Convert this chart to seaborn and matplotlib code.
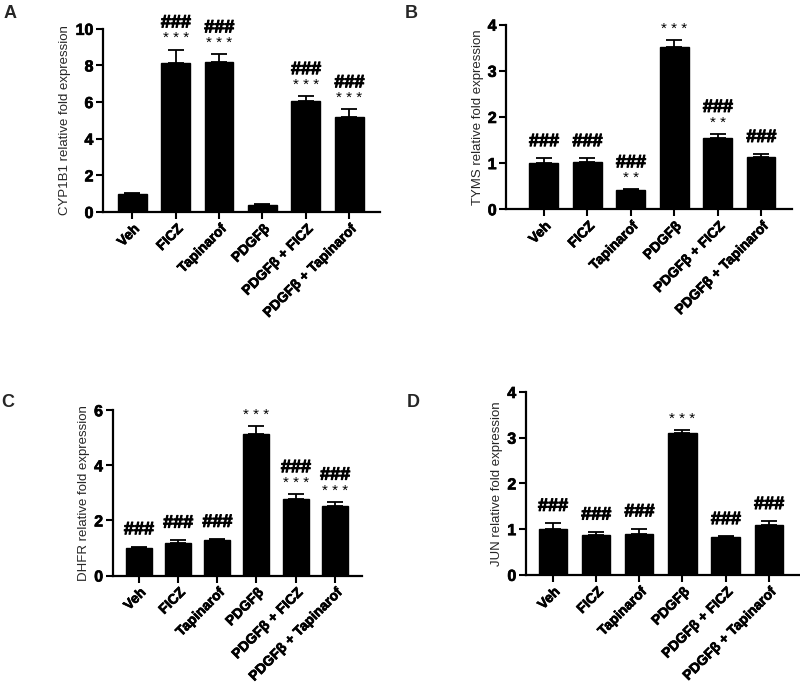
import matplotlib
matplotlib.use('Agg')
import matplotlib.pyplot as plt
import matplotlib.patheffects as pe
import seaborn as sns
import pandas as pd

sns.set_theme(style='ticks')
plt.rcParams['font.family'] = ['Liberation Sans', 'DejaVu Sans']

groups = ["Veh", "FICZ", "Tapinarof", "PDGFβ", "PDGFβ + FICZ", "PDGFβ + Tapinarof"]

cyp1b1_mean = [1.00, 8.12, 8.18, 0.38, 6.05, 5.18]
cyp1b1_err = [0.05, 0.75, 0.42, 0.05, 0.27, 0.42]
cyp1b1_hash = ["", "###", "###", "", "###", "###"]
cyp1b1_star = ["", "* * *", "* * *", "", "* * *", "* * *"]

tyms_mean = [1.00, 1.02, 0.41, 3.52, 1.55, 1.13]
tyms_err = [0.10, 0.08, 0.02, 0.14, 0.08, 0.06]
tyms_hash = ["###", "###", "###", "", "###", "###"]
tyms_star = ["", "", "* *", "* * *", "* *", ""]

dhfr_mean = [1.00, 1.17, 1.28, 5.15, 2.77, 2.53]
dhfr_err = [0.05, 0.12, 0.04, 0.27, 0.18, 0.15]
dhfr_hash = ["###", "###", "###", "", "###", "###"]
dhfr_star = ["", "", "", "* * *", "* * *", "* * *"]

jun_mean = [1.00, 0.87, 0.90, 3.10, 0.82, 1.10]
jun_err = [0.13, 0.07, 0.11, 0.07, 0.02, 0.07]
jun_hash = ["###", "###", "###", "", "###", "###"]
jun_star = ["", "", "", "* * *", "", ""]

panels = [
    dict(letter="A", ylabel="CYP1B1 relative fold expression", mean=cyp1b1_mean, err=cyp1b1_err,
         hash=cyp1b1_hash, star=cyp1b1_star, yticks=[0, 2, 4, 6, 8, 10],
         rect=[0.129, 0.691, 0.346, 0.267], xlim=(-0.67, 5.71), lpos=(0.004, 0.993)),
    dict(letter="B", ylabel="TYMS relative fold expression", mean=tyms_mean, err=tyms_err,
         hash=tyms_hash, star=tyms_star, yticks=[0, 1, 2, 3, 4],
         rect=[0.633, 0.695, 0.357, 0.269], xlim=(-0.86, 5.71), lpos=(0.506, 0.993)),
    dict(letter="C", ylabel="DHFR relative fold expression", mean=dhfr_mean, err=dhfr_err,
         hash=dhfr_hash, star=dhfr_star, yticks=[0, 2, 4, 6],
         rect=[0.141, 0.161, 0.3115, 0.241], xlim=(-0.66, 5.69), lpos=(0.002, 0.425)),
    dict(letter="D", ylabel="JUN relative fold expression", mean=jun_mean, err=jun_err,
         hash=jun_hash, star=jun_star, yticks=[0, 1, 2, 3, 4],
         rect=[0.6575, 0.162, 0.3425, 0.2666], xlim=(-0.62, 5.72), lpos=(0.508, 0.425)),
]

heavy = [pe.withStroke(linewidth=0.7, foreground="black")]

fig = plt.figure(figsize=(8, 6.86), dpi=100)

for p in panels:
    ax = fig.add_axes(p["rect"])
    df = pd.DataFrame({"group": groups, "value": p["mean"]})
    sns.barplot(data=df, x="group", y="value", order=groups, color="black",
                saturation=1, width=0.66, errorbar=None, ax=ax, edgecolor="black")
    xs = list(range(len(groups)))
    ax.errorbar(xs, p["mean"], yerr=[[0] * len(groups), p["err"]], fmt="none",
                ecolor="black", elinewidth=1.3, capsize=5.5, capthick=1.3, zorder=3)
    for i in xs:
        top = p["mean"][i] + p["err"][i]
        s = p["star"][i]
        h = p["hash"][i]
        if s:
            ax.annotate(s, xy=(i, top), xytext=(0, 3), textcoords="offset points",
                        ha="center", va="bottom", fontsize=11, color="black")
            if h:
                ax.annotate(h, xy=(i, top), xytext=(0, 13), textcoords="offset points",
                            ha="center", va="bottom", fontsize=13, fontweight="bold",
                            color="black", path_effects=heavy)
        elif h:
            ax.annotate(h, xy=(i, top), xytext=(0, 6), textcoords="offset points",
                        ha="center", va="bottom", fontsize=13, fontweight="bold",
                        color="black", path_effects=heavy)
    ax.set_xlim(*p["xlim"])
    ax.set_ylim(p["yticks"][0], p["yticks"][-1])
    ax.set_yticks(p["yticks"])
    ax.set_yticklabels([str(t) for t in p["yticks"]], fontsize=11.5, fontweight="bold")
    ax.set_xticks(xs)
    ax.set_xticklabels(groups, rotation=45, ha="right", rotation_mode="anchor",
                       fontsize=10, fontweight="bold")
    for lab in ax.get_xticklabels() + ax.get_yticklabels():
        lab.set_path_effects([pe.withStroke(linewidth=0.5, foreground="black")])
    ax.set_xlabel("")
    ax.set_ylabel(p["ylabel"], fontsize=9.5, labelpad=3)
    for side in ["top", "right"]:
        ax.spines[side].set_visible(False)
    for side in ["left", "bottom"]:
        ax.spines[side].set_linewidth(1.6)
        ax.spines[side].set_color("black")
    ax.tick_params(axis="both", direction="out", length=5, width=1.5, colors="black", pad=2)
    fig.text(p["lpos"][0], p["lpos"][1], p["letter"], fontsize=13, fontweight="bold",
             ha="left", va="top")

fig.savefig("out.png", dpi=100)
